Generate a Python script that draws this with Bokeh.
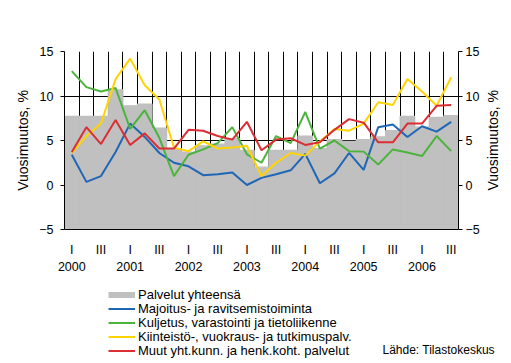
import math
import numpy as np
from bokeh.plotting import figure
from bokeh.models import (LinearAxis, Range1d, FixedTicker, Legend, LegendItem,
                          Grid, Label)
from bokeh.embed import file_html
from bokeh.resources import INLINE

# ---------------- data ----------------
years = ["2000", "2001", "2002", "2003", "2004", "2005", "2006"]
quarter_names = ["I", "II", "III", "IV"]
y_ticks = [-5, 0, 5, 10, 15]

series_names = ["Palvelut yhteensä",
                "Majoitus- ja ravitsemistoiminta",
                "Kuljetus, varastointi ja tietoliikenne",
                "Kiinteistö-, vuokraus- ja tutkimuspalv.",
                "Muut yht.kunn. ja henk.koht. palvelut"]
axis_title = "Vuosimuutos, %"
source_text = "Lähde: Tilastokeskus"

# quarterly values 2000 I ... 2006 III
palvelut = [7.7, 7.7, 7.7, 10.7, 8.9, 9.1, 6.4, 4.1, 3.7, 4.4, 4.6, 5.2, 3.9, 2.0,
            3.9, 3.9, 5.5, 4.1, 5.1, 4.9, 5.1, 5.4, 6.1, 7.7, 6.5, 7.6, 7.8]
majoitus = [3.4, 0.35, 1.0, 3.7, 6.9, 5.4, 3.6, 2.5, 2.1, 1.1, 1.2, 1.4, 0.0, 0.8,
            1.2, 1.65, 3.5, 0.2, 1.3, 3.6, 1.7, 6.5, 6.8, 5.4, 6.6, 6.0, 7.1]
kuljetus = [12.8, 11.0, 10.5, 10.9, 6.3, 8.4, 5.3, 1.0, 3.4, 4.0, 4.7, 6.5, 3.45, 2.5,
            5.5, 4.7, 8.2, 4.1, 5.0, 3.8, 3.75, 2.3, 4.0, 3.65, 3.25, 5.5, 3.8]
kiinteisto = [3.6, 5.5, 6.9, 11.9, 14.2, 11.2, 9.6, 4.2, 3.8, 4.9, 4.1, 4.2, 4.4, 1.0,
              2.5, 3.6, 3.3, 4.9, 6.3, 6.1, 6.9, 9.3, 9.0, 11.9, 10.5, 8.9, 12.1]
muut = [3.7, 6.5, 4.6, 7.3, 4.5, 5.8, 4.1, 4.1, 6.2, 6.1, 5.5, 5.1, 7.1, 3.9,
        5.1, 5.25, 4.5, 4.8, 6.2, 7.4, 7.0, 4.8, 4.8, 6.9, 6.9, 8.9, 9.0]

colors = ["#C0C0C0", "#1F66B5", "#4CB43C", "#FFD400", "#DC2D32"]

# ---------------- main chart ----------------
n = len(palvelut)
x = np.arange(n) + 0.5
FONT = "Liberation Sans"

p = figure(width=511, height=280, output_backend="svg", toolbar_location=None,
           x_range=Range1d(0, n), y_range=Range1d(-5, 15),
           x_axis_type=None, y_axis_type=None,
           min_border_left=64, min_border_right=49,
           min_border_top=51, min_border_bottom=51)
p.outline_line_color = None
p.background_fill_color = "white"
p.border_fill_color = "white"

# grids
p.add_layout(Grid(dimension=0, ticker=FixedTicker(ticks=list(range(1, n))),
                  grid_line_color="black", grid_line_width=1), "center")
p.add_layout(Grid(dimension=1, ticker=FixedTicker(ticks=y_ticks),
                  grid_line_color="black", grid_line_width=1), "center")

# gray columns
p.vbar(x=x, top=palvelut, bottom=-5, width=1, fill_color=colors[0],
       line_color=colors[0], line_width=1.2)

# lines
for vals, c in zip([majoitus, kuljetus, kiinteisto, muut], colors[1:]):
    p.line(x, vals, line_color=c, line_width=2)


def style_axis(ax):
    ax.axis_line_color = "black"
    ax.major_tick_line_color = "black"
    ax.minor_tick_line_color = None
    ax.major_label_text_font = FONT
    ax.major_label_text_font_size = "12.5px"
    ax.major_label_text_color = "black"
    ax.axis_label_text_font = FONT
    ax.axis_label_text_font_size = "14px"
    ax.axis_label_text_font_style = "normal"
    ax.axis_label_text_color = "black"


yl = LinearAxis(ticker=FixedTicker(ticks=y_ticks), axis_label=axis_title)
style_axis(yl)
yl.major_tick_out = 4
yl.major_tick_in = 0
yl.major_label_standoff = 7
yl.axis_label_standoff = 5
p.add_layout(yl, "left")

# right axis: ticks and labels
yr = LinearAxis(ticker=FixedTicker(ticks=y_ticks))
style_axis(yr)
yr.major_tick_out = 4
yr.major_tick_in = 0
yr.major_label_standoff = 3
p.add_layout(yr, "right")

# right axis title (reads bottom to top, as in the original)
yr2 = LinearAxis(ticker=FixedTicker(ticks=[]), axis_label="\u00a0" * 10 + axis_title)
style_axis(yr2)
yr2.axis_line_color = None
yr2.major_tick_line_color = None
yr2.major_tick_out = 0
yr2.major_tick_in = 0
yr2.major_label_standoff = 0
yr2.axis_label_standoff = 10
try:
    yr2.axis_label_orientation = math.pi / 2
    yr2.axis_label_align = "start"
except Exception:
    pass
p.add_layout(yr2, "right")

# quarter labels (I / III)
q_ticks = [float(v) for v in x[::2]]
q_labels = {t: quarter_names[(i * 2) % 4] for i, t in enumerate(q_ticks)}
xq = LinearAxis(ticker=FixedTicker(ticks=q_ticks), major_label_overrides=q_labels)
style_axis(xq)
xq.major_tick_line_color = None
xq.major_tick_out = 0
xq.major_tick_in = 0
xq.major_label_standoff = 13
p.add_layout(xq, "below")

# year labels
y_pos = [float(v) for v in x[::4]]
y_labels = {t: years[i] for i, t in enumerate(y_pos)}
xy = LinearAxis(ticker=FixedTicker(ticks=y_pos), major_label_overrides=y_labels)
style_axis(xy)
xy.axis_line_color = None
xy.major_tick_line_color = None
xy.major_tick_out = 0
xy.major_tick_in = 0
xy.major_label_standoff = 2
p.add_layout(xy, "below")

# ---------------- legend strip ----------------
q = figure(width=511, height=83, output_backend="svg", toolbar_location=None,
           x_range=Range1d(0, 1), y_range=Range1d(0, 1),
           x_axis_type=None, y_axis_type=None,
           min_border_left=0, min_border_right=0,
           min_border_top=0, min_border_bottom=0)
q.outline_line_color = None
q.background_fill_color = "white"
q.border_fill_color = "white"

keys = [q.line(x=[np.nan], y=[np.nan], line_color=colors[0], line_width=6)]
for c in colors[1:]:
    keys.append(q.line(x=[np.nan], y=[np.nan], line_color=c, line_width=2))

row_offsets = [61, 47, 33, 19, 5]   # screen offsets of the legend rows
for name, r, off in zip(series_names, keys, row_offsets):
    lg = Legend(items=[LegendItem(label=name, renderers=[r])], location=(108, off),
                orientation="vertical", glyph_width=27, glyph_height=13,
                label_height=13, label_standoff=3, spacing=0, padding=0, margin=0,
                border_line_color=None, background_fill_alpha=0,
                label_text_font=FONT, label_text_font_size="13px",
                label_text_color="black")
    q.add_layout(lg, "center")

q.add_layout(Label(x=382, y=14, x_units="screen", y_units="screen",
                   text=source_text, text_font=FONT, text_font_size="12px",
                   text_baseline="middle", text_color="black"))

open("out.html", "w").write(file_html([p, q], INLINE))
